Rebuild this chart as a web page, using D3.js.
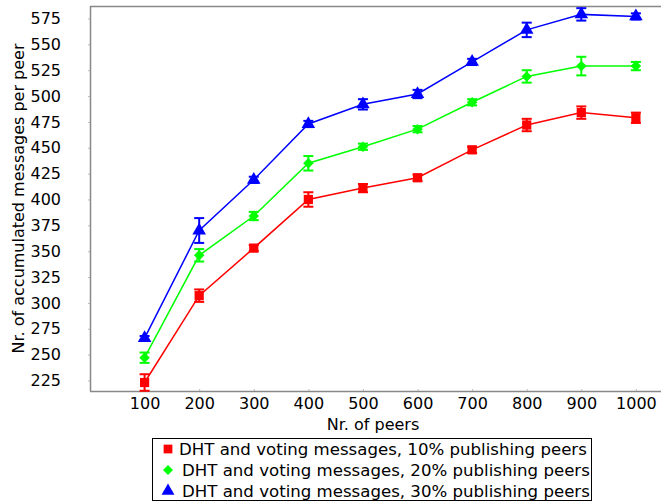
<!DOCTYPE html>
<html>
<head>
<meta charset="utf-8">
<script src="https://cdn.jsdelivr.net/npm/d3@7"></script>
<style>
  html, body { margin: 0; padding: 0; background: #fff; }
  svg { display: block; font-family: "DejaVu Sans", sans-serif; }
</style>
</head>
<body>
<svg id="chart" width="661" height="504"></svg>
<script>
const peers = [100, 200, 300, 400, 500, 600, 700, 800, 900, 1000];
const xTicks = [100, 200, 300, 400, 500, 600, 700, 800, 900, 1000];
const yTicks = [225, 250, 275, 300, 325, 350, 375, 400, 425, 450, 475, 500, 525, 550, 575];

const names = [
  "DHT and voting messages, 10% publishing peers",
  "DHT and voting messages, 20% publishing peers",
  "DHT and voting messages, 30% publishing peers"
];
const values10 = [223, 307, 353, 400, 411, 421, 448, 472, 484, 479];
const err10    = [8, 6, 3, 7, 4, 3, 3, 6, 6, 5];
const values20 = [247, 346, 384, 435, 451, 468, 494, 519, 529, 529];
const err20    = [5, 6, 4, 7, 3, 3, 3, 6, 9, 4];
const values30 = [266, 370, 419, 473, 492, 502, 533, 564, 579, 577];
const err30    = [2, 12, 3, 3, 5, 4, 3, 7, 6, 3];

const colors = ["#ff0000", "#00ff00", "#0000ff"];
const shapes = [d3.symbolSquare, d3.symbolSquare, d3.symbolTriangle];
const rotations = [0, 45, 0];
const sizes = [85, 55, 80];

const series = [
  {name: names[0], vals: values10, errs: err10},
  {name: names[1], vals: values20, errs: err20},
  {name: names[2], vals: values30, errs: err30}
];

const svg = d3.select("#chart");
const L = 90, R = 661, T = 6, B = 391;

const x = d3.scaleLinear().domain([0, 1046]).range([L, R]);
const y = d3.scaleLinear().domain([214.8, 587.1]).range([B, T]);

const axisColor = "#888888";

svg.append("line").attr("x1", L).attr("x2", R).attr("y1", T + 0.5).attr("y2", T + 0.5)
  .attr("stroke", axisColor).attr("stroke-width", 1.5);

const xAxis = svg.append("g").attr("transform", `translate(0,${B})`)
  .call(d3.axisBottom(x).tickValues(xTicks).tickSize(2).tickPadding(5).tickFormat(d3.format("d")));
xAxis.select(".domain").attr("stroke", axisColor).attr("stroke-width", 1.5)
  .attr("d", `M${L},0.5H${R}`);
xAxis.selectAll(".tick line").attr("stroke", "#bbbbbb").attr("y2", -2);
xAxis.selectAll(".tick text").attr("font-size", 16).attr("fill", "#000")
  .attr("font-family", "DejaVu Sans, sans-serif");

const yAxis = svg.append("g").attr("transform", `translate(${L},0)`)
  .call(d3.axisLeft(y).tickValues(yTicks).tickSize(2).tickPadding(27).tickFormat(d3.format("d")));
yAxis.select(".domain").attr("stroke", axisColor).attr("stroke-width", 1.5)
  .attr("d", `M0.5,${T}V${B}`);
yAxis.selectAll(".tick line").attr("stroke", "#bbbbbb");
yAxis.selectAll(".tick text").attr("font-size", 16).attr("fill", "#000")
  .attr("font-family", "DejaVu Sans, sans-serif");

svg.append("text").attr("x", 373).attr("y", 430).attr("text-anchor", "middle")
  .attr("font-size", 16).text("Nr. of peers");
svg.append("text").attr("transform", `translate(24,${(T + B) / 2}) rotate(-90)`)
  .attr("text-anchor", "middle").attr("font-size", 16)
  .text("Nr. of accumulated messages per peer");

const line = d3.line().x((d) => x(d[0])).y((d) => y(d[1]));
series.forEach((s, i) => {
  const pts = peers.map((p, j) => [p, s.vals[j], s.errs[j]]);
  const g = svg.append("g");
  g.append("path").datum(pts).attr("d", line).attr("fill", "none")
    .attr("stroke", colors[i]).attr("stroke-width", 1.5);
  const eb = g.selectAll(".eb").data(pts).enter().append("g");
  eb.append("line").attr("x1", (d) => x(d[0])).attr("x2", (d) => x(d[0]))
    .attr("y1", (d) => y(d[1] - d[2])).attr("y2", (d) => y(d[1] + d[2]))
    .attr("stroke", colors[i]).attr("stroke-width", 2);
  [-1, 1].forEach((sgn) => {
    eb.append("line").attr("x1", (d) => x(d[0]) - 5).attr("x2", (d) => x(d[0]) + 5)
      .attr("y1", (d) => y(d[1] + sgn * d[2])).attr("y2", (d) => y(d[1] + sgn * d[2]))
      .attr("stroke", colors[i]).attr("stroke-width", 2);
  });
  g.selectAll(".m").data(pts).enter().append("path")
    .attr("d", d3.symbol().type(shapes[i]).size(sizes[i]))
    .attr("transform", (d) => `translate(${x(d[0])},${y(d[1])}) rotate(${rotations[i]})`)
    .attr("fill", colors[i]);
});

const lg = svg.append("g");
lg.append("rect").attr("x", 152.5).attr("y", 438.5).attr("width", 439).attr("height", 62)
  .attr("fill", "#fff").attr("stroke", "#000").attr("stroke-width", 1);
series.forEach((s, i) => {
  const cy = 449 + i * 21;
  lg.append("path").attr("d", d3.symbol().type(shapes[i]).size(sizes[i] * 0.9))
    .attr("transform", `translate(168,${cy}) rotate(${rotations[i]})`).attr("fill", colors[i]);
  lg.append("text").attr("x", i === 0 ? 179 : 182).attr("y", cy).attr("dy", "0.35em")
    .attr("font-size", 16.6).text(s.name);
});
</script>
</body>
</html>
